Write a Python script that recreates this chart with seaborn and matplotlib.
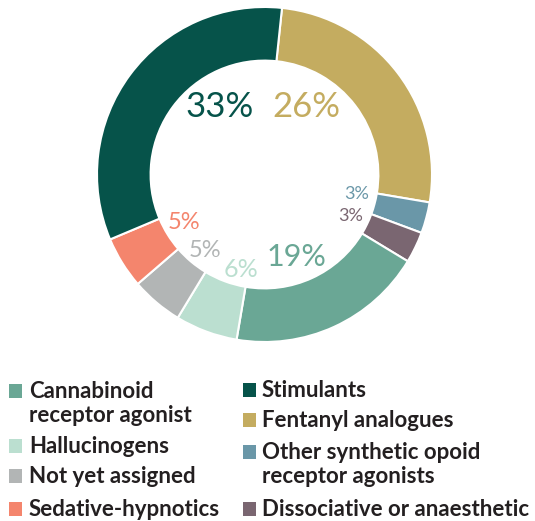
import matplotlib.pyplot as plt
import seaborn as sns
from matplotlib.patches import Rectangle

# slices in clockwise order starting just right of the top
categories = ['Fentanyl analogues', 'Other synthetic opoid receptor agonists',
              'Dissociative or anaesthetic', 'Cannabinoid receptor agonist',
              'Hallucinogens', 'Not yet assigned', 'Sedative-hypnotics', 'Stimulants']
shares = [26, 3, 3, 19, 6, 5, 5, 33]
colors = ['#c4ac60', '#6a97a8', '#7a6671', '#6aa795',
          '#bbdfd0', '#b2b5b5', '#f4856d', '#06534a']

# percent labels: (x, baseline y) inside the hole, font size
label_pos = [(0.25, 0.345), (0.548, -0.149), (0.512, -0.28), (0.19, -0.548),
             (-0.143, -0.613), (-0.357, -0.494), (-0.482, -0.327), (-0.268, 0.345)]
label_size = [25, 13, 13, 22, 18, 17, 17, 25]

# legend layout: two columns
legend_left = ['Cannabinoid\nreceptor agonist', 'Hallucinogens', 'Not yet assigned', 'Sedative-hypnotics']
legend_right = ['Stimulants', 'Fentanyl analogues', 'Other synthetic opoid\nreceptor agonists',
                'Dissociative or anaesthetic']
left_baselines = [398, 453, 483, 516]
right_baselines = [397, 427, 459, 516]

sns.set_style('white')
plt.rcParams['font.family'] = ['Lato', 'DejaVu Sans']

W, H = 535, 521
fig = plt.figure(figsize=(W / 100, H / 100), dpi=100)
ax = fig.add_axes([97 / W, (H - 342) / H, 335 / W, 335 / H])

ax.pie(shares, colors=colors, startangle=84, counterclock=False,
       wedgeprops=dict(width=0.32, edgecolor='white', linewidth=1.5))
ax.set_xlim(-1, 1)
ax.set_ylim(-1, 1)
ax.set_aspect('equal')
ax.axis('off')

for share, col, (x, y), fs in zip(shares, colors, label_pos, label_size):
    ax.text(x, y, f'{share}%', color=col, fontsize=fs, ha='center', va='baseline')

color_of = dict(zip(categories, colors))


def draw_legend(labels, baselines, sq_x, text_x):
    for lab, base in zip(labels, baselines):
        fig.patches.append(Rectangle((sq_x / W, (H - base) / H), 13 / W, 14 / H,
                                     transform=fig.transFigure, facecolor=color_of[lab.replace('\n', ' ')],
                                     edgecolor='none'))
        for i, line in enumerate(lab.split('\n')):
            fig.text(text_x / W, (H - base - 24 * i) / H, line, fontsize=16, fontweight='bold',
                     color='#231f20', ha='left', va='baseline')


draw_legend(legend_left, left_baselines, 9, 29)
draw_legend(legend_right, right_baselines, 243, 262)

fig.savefig('out.png', dpi=100)
